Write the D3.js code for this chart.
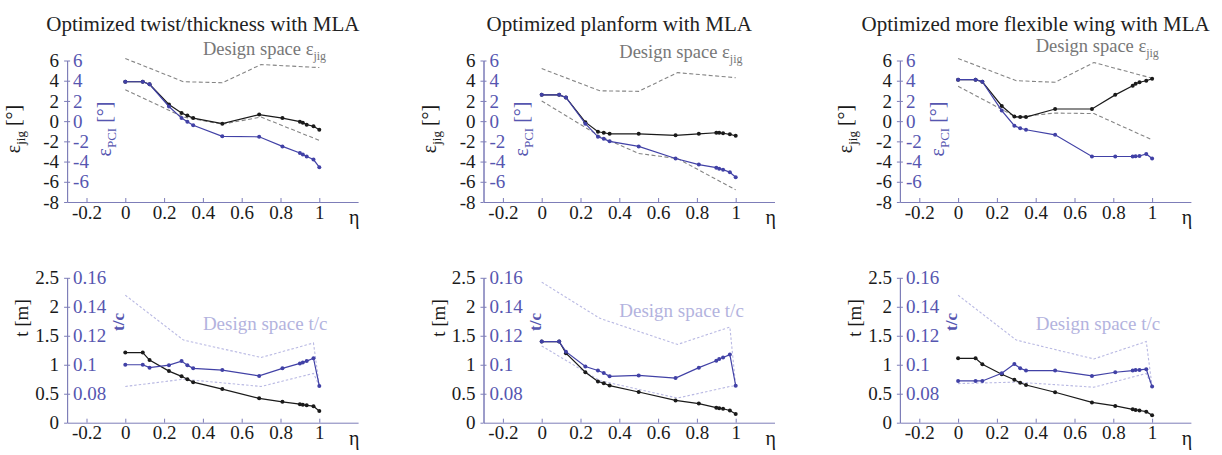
<!DOCTYPE html>
<html>
<head>
<meta charset="utf-8">
<script src="https://cdn.jsdelivr.net/npm/d3@7"></script>
<style>
  body { margin: 0; background: #fff; }
  svg, svg text { font-family: "Liberation Serif", "Times New Roman", Times, Tinos, "Noto Serif", "DejaVu Serif", serif !important; }
</style>
</head>
<body>
<div id="chart"></div>
<script>
// spanwise stations (eta) shared by every panel
const ETA = [0, 0.09, 0.125, 0.225, 0.29, 0.32, 0.35, 0.5, 0.69, 0.81, 0.9, 0.915, 0.935, 0.97, 1.0];

const TITLES = ["Optimized twist/thickness with MLA", "Optimized planform with MLA", "Optimized more flexible wing with MLA"];

// top row: jig twist (black) and PCI twist (blue), degrees
const JIG = [
  [3.9, 3.9, 3.65, 1.65, 0.8, 0.55, 0.3, -0.25, 0.65, 0.3, -0.05, -0.15, -0.35, -0.5, -0.85],
  [2.6, 2.6, 2.35, -0.1, -1.05, -1.15, -1.25, -1.25, -1.4, -1.25, -1.15, -1.15, -1.2, -1.3, -1.45],
  [4.1, 4.1, 3.9, 1.5, 0.45, 0.4, 0.4, 1.2, 1.2, 2.6, 3.5, 3.7, 3.85, 4.0, 4.2]
];
const PCI = [
  [3.9, 3.9, 3.65, 1.45, 0.3, -0.05, -0.4, -1.5, -1.55, -2.5, -3.15, -3.3, -3.5, -3.8, -4.55],
  [2.6, 2.6, 2.35, -0.25, -1.55, -1.75, -2.0, -2.5, -3.7, -4.3, -4.6, -4.7, -4.8, -5.05, -5.55],
  [4.1, 4.1, 3.9, 1.05, -0.45, -0.7, -0.85, -1.35, -3.5, -3.5, -3.5, -3.48, -3.45, -3.25, -3.7]
];
const JIG_BOUND_ETA = [0, 0.3, 0.5, 0.7, 1.0];
const JIG_UPPER = [
  [6.2, 3.9, 3.8, 5.6, 5.3],
  [5.2, 3.0, 2.95, 4.8, 4.3],
  [6.2, 4.0, 3.85, 5.8, 4.25]
];
const JIG_LOWER = [
  [3.1, 0.4, -0.3, 0.4, -1.9],
  [2.0, -1.5, -3.2, -3.7, -6.8],
  [3.45, 0.4, 0.8, 0.75, -1.85]
];

// bottom row: thickness t [m] (black) and t/c (blue)
const THICK = [
  [1.21, 1.21, 1.08, 0.89, 0.8, 0.75, 0.7, 0.58, 0.42, 0.36, 0.32, 0.31, 0.3, 0.285, 0.2],
  [1.4, 1.4, 1.2, 0.87, 0.71, 0.68, 0.64, 0.53, 0.385, 0.33, 0.26, 0.25, 0.24, 0.21, 0.15],
  [1.11, 1.11, 1.01, 0.835, 0.74, 0.69, 0.65, 0.525, 0.35, 0.29, 0.23, 0.22, 0.21, 0.19, 0.13]
];
const TC = [
  [0.1, 0.1, 0.098, 0.0997, 0.1025, 0.0997, 0.0975, 0.0963, 0.0923, 0.0975, 0.1009, 0.1016, 0.1025, 0.1045, 0.0854],
  [0.116, 0.116, 0.109, 0.0988, 0.096, 0.0943, 0.092, 0.0926, 0.0908, 0.098, 0.1028, 0.104, 0.105, 0.107, 0.0855],
  [0.0888, 0.0888, 0.0888, 0.0941, 0.1005, 0.0976, 0.096, 0.096, 0.0923, 0.0948, 0.096, 0.0963, 0.0964, 0.0969, 0.0849]
];
const TC_BOUND_ETA = [0, 0.3, 0.7, 0.97, 1.0];
const TC_UPPER = [
  [0.148, 0.117, 0.105, 0.115, 0.0855],
  [0.157, 0.132, 0.114, 0.126, 0.0855],
  [0.148, 0.117, 0.104, 0.116, 0.085]
];
const TC_LOWER = [
  [0.085, 0.09, 0.085, 0.094, 0.0855],
  [0.113, 0.089, 0.077, 0.085, 0.0855],
  [0.087, 0.088, 0.0845, 0.094, 0.085]
];

const X_TICKS = [-0.2, 0, 0.2, 0.4, 0.6, 0.8, 1];
const JIG_TICKS = [6, 4, 2, 0, -2, -4, -6, -8];
const PCI_TICKS = [6, 4, 2, 0, -2, -4, -6];
const T_TICKS = [0, 0.5, 1, 1.5, 2, 2.5];
const TC_TICKS = [0.08, 0.1, 0.12, 0.14, 0.16];

const width = 1222, height = 455;
const BLACK = "#1a1a1a", BLUE = "#4141a6", BLUE_TXT = "#5656b0", AXIS = "#7d7db8";
const GRAY = "#858585", LAVENDER = "#b9b9e3";
const SERIF = "Liberation Serif, Times New Roman, Times, Tinos, Noto Serif, DejaVu Serif, serif";

const svg = d3.select("#chart").append("svg")
    .attr("width", width)
    .attr("height", height)
    .attr("font-family", SERIF);
svg.append("rect").attr("width", width).attr("height", height).attr("fill", "#fff");

// per-panel placement of annotation text (pixels)
const jigNoteY = [55, 58, 52];
const tcNoteY = [330, 317, 330];

const fmt = d => String(d);

function styleAxis(g, color) {
  g.attr("font-family", SERIF);
  g.selectAll(".domain").attr("stroke", AXIS);
  g.selectAll(".tick line").attr("stroke", AXIS);
  g.selectAll(".tick text").attr("fill", color).attr("font-size", 19);
}

function drawRow(i, opts) {
  const x0 = 125.3 + i * 416.4;
  const x = d3.scaleLinear().domain([-0.3, 1.2]).range([x0 - 0.3 * 194, x0 + 1.2 * 194]);
  const yL = d3.scaleLinear().domain(opts.leftDomain).range(opts.range);
  const yR = d3.scaleLinear().domain(opts.rightDomain).range(opts.range);
  const axisX = x(-0.3);
  const g = svg.append("g");

  // x axis
  g.append("g")
      .attr("transform", `translate(0,${opts.range[0]})`)
      .call(d3.axisBottom(x).tickValues(X_TICKS).tickFormat(fmt).tickSizeInner(-4).tickSizeOuter(0).tickPadding(3))
      .call(a => styleAxis(a, BLACK));

  // left (black) and right (blue) tick labels on the same axis line
  g.append("g")
      .attr("transform", `translate(${axisX},0)`)
      .call(d3.axisLeft(yL).tickValues(opts.leftTicks).tickFormat(fmt).tickSizeInner(3).tickSizeOuter(0).tickPadding(5))
      .call(a => styleAxis(a, BLACK));
  g.append("g")
      .attr("transform", `translate(${axisX},0)`)
      .call(d3.axisRight(yR).tickValues(opts.rightTicks).tickFormat(fmt).tickSizeInner(3).tickSizeOuter(0).tickPadding(3))
      .call(a => styleAxis(a, BLUE_TXT));

  const line = y => d3.line().x(d => x(d[0])).y(d => y(d[1]));

  // design space bounds
  opts.bounds.forEach(b => {
    g.append("path")
        .datum(d3.zip(opts.boundEta, b.values))
        .attr("d", line(b.scale))
        .attr("fill", "none")
        .attr("stroke", b.color)
        .attr("stroke-width", 1.1)
        .attr("stroke-dasharray", b.dash);
  });

  // data series
  opts.series.forEach(s => {
    const pts = d3.zip(ETA, s.values);
    g.append("path")
        .datum(pts)
        .attr("d", line(s.scale))
        .attr("fill", "none")
        .attr("stroke", s.color)
        .attr("stroke-width", 1.2);
    g.selectAll(null)
      .data(pts)
      .enter().append("circle")
        .attr("cx", d => x(d[0]))
        .attr("cy", d => s.scale(d[1]))
        .attr("r", 2)
        .attr("fill", s.color);
  });

  // eta label
  g.append("text")
      .attr("x", x(1.18)).attr("y", opts.range[0] + 22)
      .attr("text-anchor", "middle")
      .attr("font-size", 20)
      .attr("fill", BLACK)
      .text("η");

  return x;
}

const yTop = d3.scaleLinear().domain([-8, 6]).range([202, 60.5]);
const yT = d3.scaleLinear().domain([0, 2.5]).range([422.7, 277.8]);
const yTC = d3.scaleLinear().domain([0.06, 0.16]).range([422.7, 277.8]);

for (let i = 0; i < 3; i++) {
  // top row: twist
  const x = drawRow(i, {
    leftDomain: [-8, 6], rightDomain: [-8, 6], range: [202, 60.5],
    leftTicks: JIG_TICKS, rightTicks: PCI_TICKS,
    boundEta: JIG_BOUND_ETA,
    bounds: [
      { values: JIG_UPPER[i], scale: yTop, color: GRAY, dash: "4,2.5" },
      { values: JIG_LOWER[i], scale: yTop, color: GRAY, dash: "4,2.5" }
    ],
    series: [
      { values: JIG[i], scale: yTop, color: BLACK },
      { values: PCI[i], scale: yTop, color: BLUE }
    ]
  });

  svg.append("text")
      .attr("x", x(0.4)).attr("y", 30.5)
      .attr("text-anchor", "middle")
      .attr("font-size", 21)
      .attr("fill", "#222")
      .text(TITLES[i]);

  const jn = svg.append("text")
      .attr("x", x(0.4)).attr("y", jigNoteY[i])
      .attr("font-size", 18.5)
      .attr("fill", "#777");
  jn.append("tspan").text("Design space ε");
  jn.append("tspan").attr("dy", 5).attr("font-size", 12).text("jig");

  const lab1 = svg.append("text")
      .attr("transform", `translate(${x(-0.545)},129) rotate(-90)`)
      .attr("text-anchor", "middle")
      .attr("font-size", 20)
      .attr("fill", BLACK);
  lab1.append("tspan").text("ε");
  lab1.append("tspan").attr("dy", 5).attr("font-size", 13).text("jig");
  lab1.append("tspan").attr("dy", -5).text(" [°]");

  const lab2 = svg.append("text")
      .attr("transform", `translate(${x(-0.072)},129) rotate(-90)`)
      .attr("text-anchor", "middle")
      .attr("font-size", 20)
      .attr("fill", BLUE_TXT);
  lab2.append("tspan").text("ε");
  lab2.append("tspan").attr("dy", 5).attr("font-size", 13).text("PCI");
  lab2.append("tspan").attr("dy", -5).text(" [°]");

  // bottom row: thickness
  drawRow(i, {
    leftDomain: [0, 2.5], rightDomain: [0.06, 0.16], range: [422.7, 277.8],
    leftTicks: T_TICKS, rightTicks: TC_TICKS,
    boundEta: TC_BOUND_ETA,
    bounds: [
      { values: TC_UPPER[i], scale: yTC, color: LAVENDER, dash: "2.5,2" },
      { values: TC_LOWER[i], scale: yTC, color: LAVENDER, dash: "2.5,2" }
    ],
    series: [
      { values: THICK[i], scale: yT, color: BLACK },
      { values: TC[i], scale: yTC, color: BLUE }
    ]
  });

  svg.append("text")
      .attr("x", x(0.4)).attr("y", tcNoteY[i])
      .attr("font-size", 19)
      .attr("fill", "#b3b3de")
      .text("Design space t/c");

  svg.append("text")
      .attr("transform", `translate(${x(-0.5)},318) rotate(-90)`)
      .attr("text-anchor", "middle")
      .attr("font-size", 19)
      .attr("fill", BLACK)
      .text("t [m]");

  svg.append("text")
      .attr("transform", `translate(${x(-0.005)},322) rotate(-90)`)
      .attr("text-anchor", "middle")
      .attr("font-size", 17)
      .attr("font-weight", "bold")
      .attr("fill", BLUE_TXT)
      .text("t/c");
}
</script>
</body>
</html>
